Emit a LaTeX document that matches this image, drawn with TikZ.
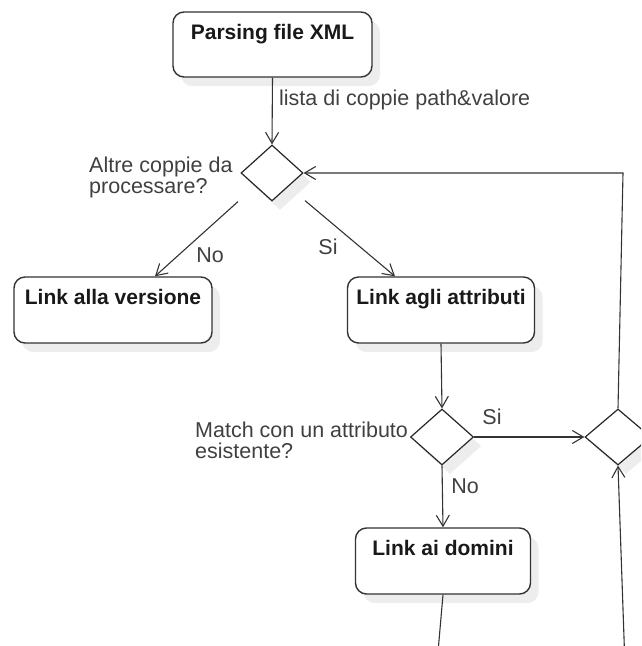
\documentclass[tikz,border=0pt]{standalone}
\usepackage{fontspec}
\setmainfont{Liberation Sans}
\usetikzlibrary{shapes.geometric,arrows.meta,shadows,calc}
\begin{document}
\begin{tikzpicture}[x=1pt,y=-1pt,
  every node/.style={font=\fontsize{21.5}{21}\selectfont, inner sep=0pt},
  shad/.style={drop shadow={shadow xshift=8pt,shadow yshift=-9pt,fill=black!7,opacity=1}},
  box/.style={draw=black!80, line width=1.4pt, rounded corners=11pt, fill=white, shad},
  dia/.style={diamond, draw=black!85, line width=1.2pt, fill=white, inner sep=0pt, shad},
  title/.style={font=\bfseries\fontsize{21}{21}\selectfont, text=black!90, anchor=base},
  lbl/.style={text=black!75},
  edge/.style={draw=black!80, line width=1.1pt},
  arr/.style={edge, -{Straight Barb[length=11pt,width=13pt,line width=1.1pt]}}
]
\useasboundingbox (0,0) rectangle (641,646);
\clip (0,0) rectangle (641,646);

% boxes
\node[box, minimum width=199pt, minimum height=65pt] (b1) at (272.5,44.5) {};
\node[title] (b1t) at ([yshift=-28pt]b1.north) {Parsing file XML};
\node[box, minimum width=198pt, minimum height=66pt] (b2) at (113,310) {};
\node[title] (b2t) at ([yshift=-28pt]b2.north) {Link alla versione};
\node[box, minimum width=187pt, minimum height=66pt] (b3) at (441,310) {};
\node[title] (b3t) at ([yshift=-28pt]b3.north) {Link agli attributi};
\node[box, minimum width=175pt, minimum height=66pt] (b4) at (443,561) {};
\node[title] (b4t) at ([yshift=-28pt]b4.north) {Link ai domini};

% diamonds
\node[dia, minimum width=62pt, minimum height=56pt] (d1) at (272,173) {};
\node[dia, minimum width=63pt, minimum height=56pt] (d2) at (442,437) {};
\node[dia, minimum width=66pt, minimum height=56pt] (d3) at (618,437) {};

% side labels
\node[lbl, align=left, anchor=north west] (q1) at (89,157) {Altre coppie da\\processare?};
\node[lbl, align=left, anchor=north west] (q2) at (195,422) {Match con un attributo\\esistente?};

% connectors
\draw[arr] (b1.south) -- (d1.north);
\node[lbl, anchor=west] (l1) at (279,100) {lista di coppie path\&valore};

\draw[arr] ($(d1.south)+(-34,0)$) -- ($(b2.north)+(42,0)$);
\node[lbl] (lno1) at (210,255) {No};
\draw[arr] ($(d1.south)+(33,-1)$) -- ($(b3.north)+(-46,0)$);
\node[lbl] (lsi1) at (328,247) {Si};

\draw[arr] (b3.south) -- (d2.north);
\draw[arr] (d2.east) -- (d3.west);
\node[lbl] (lsi2) at (492,417) {Si};
\draw[arr] (d2.south) -- (b4.north);
\node[lbl] (lno2) at (465,486) {No};

\coordinate (e1) at (438,652);
\draw[edge] (b4.south) -- (e1);
\coordinate (e2) at (624.5,652);
\draw[arr] (e2) -- (d3.south);
\coordinate (k) at (623,173);
\draw[arr] (d3.north) -- (k) -- (d1.east);
\end{tikzpicture}
\end{document}
